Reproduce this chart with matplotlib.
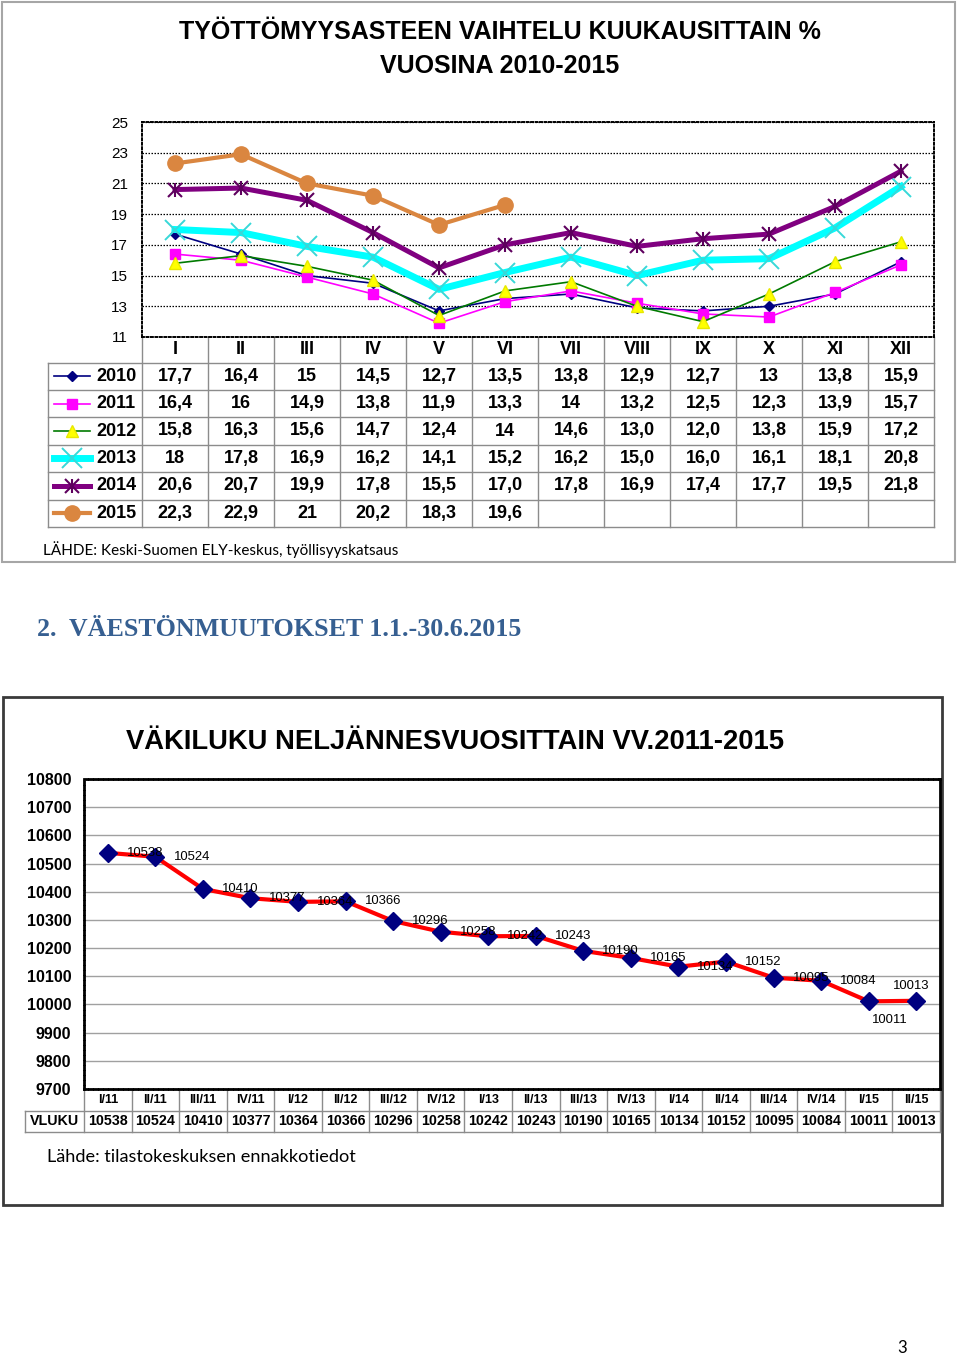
import matplotlib
matplotlib.use('Agg')
import matplotlib.pyplot as plt
import matplotlib.transforms as mtransforms
from matplotlib.patches import Rectangle
from matplotlib import font_manager as fm

# ---------------- data ----------------
months = ["I", "II", "III", "IV", "V", "VI", "VII", "VIII", "IX", "X", "XI", "XII"]
years = ["2010", "2011", "2012", "2013", "2014", "2015"]
rate_2010 = ["17,7", "16,4", "15", "14,5", "12,7", "13,5", "13,8", "12,9", "12,7", "13", "13,8", "15,9"]
rate_2011 = ["16,4", "16", "14,9", "13,8", "11,9", "13,3", "14", "13,2", "12,5", "12,3", "13,9", "15,7"]
rate_2012 = ["15,8", "16,3", "15,6", "14,7", "12,4", "14", "14,6", "13,0", "12,0", "13,8", "15,9", "17,2"]
rate_2013 = ["18", "17,8", "16,9", "16,2", "14,1", "15,2", "16,2", "15,0", "16,0", "16,1", "18,1", "20,8"]
rate_2014 = ["20,6", "20,7", "19,9", "17,8", "15,5", "17,0", "17,8", "16,9", "17,4", "17,7", "19,5", "21,8"]
rate_2015 = ["22,3", "22,9", "21", "20,2", "18,3", "19,6"]
rate_ticks = [11, 13, 15, 17, 19, 21, 23, 25]

quarters = ["I/11", "II/11", "III/11", "IV/11", "I/12", "II/12", "III/12", "IV/12", "I/13",
            "II/13", "III/13", "IV/13", "I/14", "II/14", "III/14", "IV/14", "I/15", "II/15"]
population = [10538, 10524, 10410, 10377, 10364, 10366, 10296, 10258, 10242,
              10243, 10190, 10165, 10134, 10152, 10095, 10084, 10011, 10013]
pop_ticks = [9700, 9800, 9900, 10000, 10100, 10200, 10300, 10400, 10500, 10600, 10700, 10800]

# ---------------- fonts ----------------
try:
    fm.findfont(fm.FontProperties(family='Liberation Sans Narrow'), fallback_to_default=False)
    HAS_NARROW = True
except Exception:
    HAS_NARROW = False
NARROW = ['Liberation Sans Narrow', 'Liberation Sans', 'DejaVu Sans'] if HAS_NARROW else ['Liberation Sans', 'DejaVu Sans']
NK = 1.0 if HAS_NARROW else 0.82
ARIAL = ['Liberation Sans', 'DejaVu Sans']
CAL = ['Lato', 'DejaVu Sans']
SERIF = ['Liberation Serif', 'DejaVu Serif']

W, H = 960, 1357
fig = plt.figure(figsize=(9.6, 13.57), dpi=100)
fig.patch.set_facecolor('white')


def box(x0, y0, x1, y1):
    return [x0 / W, 1 - y1 / H, (x1 - x0) / W, (y1 - y0) / H]


ov = fig.add_axes([0, 0, 1, 1], zorder=0)
ov.set_xlim(0, W)
ov.set_ylim(H, 0)
ov.axis('off')

# page frames
ov.add_patch(Rectangle((2, 2), 953, 560, fill=False, ec='#A6A6A6', lw=1.5))
ov.add_patch(Rectangle((3, 697), 939, 508, fill=False, ec='#3A3A3A', lw=2))

# ---------------- top chart ----------------
ov.text(500, 32, "TYÖTTÖMYYSASTEEN VAIHTELU KUUKAUSITTAIN %", ha='center', va='center',
        fontsize=22 * NK, fontweight='bold', family=NARROW)
ov.text(500, 66, "VUOSINA 2010-2015", ha='center', va='center',
        fontsize=22 * NK, fontweight='bold', family=NARROW)

ax1 = fig.add_axes(box(142, 122, 934, 337), zorder=2)
ax1.set_xlim(-0.5, 11.5)
ax1.set_ylim(11, 25)
ax1.set_yticks(rate_ticks)
ax1.set_yticklabels([str(t) for t in rate_ticks], family=ARIAL, fontsize=11)
ax1.set_xticks([])
ax1.tick_params(axis='y', length=0, pad=10)
ax1.grid(axis='y', linestyle=(0, (1.2, 1.2)), color='black', lw=0.9)
for s in ax1.spines.values():
    s.set_linestyle((0, (1, 1.3)))
    s.set_linewidth(1.4)
    s.set_color('black')

def vals(lst):
    return [float(v.replace(',', '.')) for v in lst]

styles = {
    "2010": dict(color='#000080', lw=1.2, marker='D', ms=5.5, mfc='#000080', mec='#000080'),
    "2011": dict(color='#FF00FF', lw=1.2, marker='s', ms=7, mfc='#FF00FF', mec='#FF00FF'),
    "2012": dict(color='#007A00', lw=1.2, marker='^', ms=8, mfc='#FFFF00', mec='#E8E800'),
    "2013": dict(color='#00FFFF', lw=5, marker='x', ms=14, mew=1.4, mec='#38D8D8'),
    "2014": dict(color='#800080', lw=3.6, marker='x', ms=10, mew=1.5, mec='#5E005E'),
    "2015": dict(color='#DA8640', lw=3, marker='o', ms=11, mfc='#DA8640', mec='#DA8640'),
}
series = {"2010": rate_2010, "2011": rate_2011, "2012": rate_2012,
          "2013": rate_2013, "2014": rate_2014, "2015": rate_2015}
for i, y in enumerate(years):
    v = vals(series[y])
    ax1.plot(range(len(v)), v, zorder=3 + i, clip_on=False, **styles[y])
    if y == "2014":
        ax1.plot(range(len(v)), v, ls='none', marker='|', ms=10, mew=1.5, color='#5E005E', zorder=3 + i)

# table under top chart
tr1 = mtransforms.blended_transform_factory(ax1.transData, ov.transData)
for i, m in enumerate(months):
    ov.text(i, 350, m, transform=tr1, ha='center', va='center', fontsize=13,
            fontweight='bold', family=ARIAL)
row_h = 27.4
row_top = 362.5
grid_c = '#8C8C8C'
for r in range(len(years) + 1):
    yy = row_top + r * row_h
    ov.plot([48, 934], [yy, yy], color=grid_c, lw=1)
ov.plot([48, 48], [row_top, row_top + 6 * row_h], color=grid_c, lw=1)
for b in range(13):
    ov.plot([b - 0.5, b - 0.5], [337, row_top + 6 * row_h], transform=tr1, color=grid_c, lw=1)

for r, y in enumerate(years):
    yc = row_top + (r + 0.5) * row_h
    st = styles[y]
    ov.plot([54, 72, 90], [yc, yc, yc], markevery=[1], zorder=5, **st)
    if y == "2014":
        ov.plot([72], [yc], ls='none', marker='|', ms=10, mew=1.5, color='#5E005E', zorder=6)
    ov.text(96, yc, y, ha='left', va='center', fontsize=13, fontweight='bold', family=ARIAL)
    for i, s in enumerate(series[y]):
        ov.text(i, yc, s, transform=tr1, ha='center', va='center', fontsize=13,
                fontweight='bold', family=ARIAL)

ov.text(43, 550, "LÄHDE: Keski-Suomen ELY-keskus, työllisyyskatsaus", ha='left', va='center',
        fontsize=11, family=CAL)

# section heading
ov.text(37, 630, "2.  VÄESTÖNMUUTOKSET 1.1.-30.6.2015", ha='left', va='center', fontsize=18.7,
        fontweight='bold', family=SERIF, color='#365F91')

# ---------------- bottom chart ----------------
ov.text(455, 742, "VÄKILUKU NELJÄNNESVUOSITTAIN VV.2011-2015", ha='center', va='center',
        fontsize=24 * NK, fontweight='bold', family=NARROW)

ax2 = fig.add_axes(box(84, 779, 940, 1089), zorder=2)
ax2.set_xlim(-0.5, len(quarters) - 0.5)
ax2.set_ylim(9700, 10800)
ax2.set_yticks(pop_ticks)
ax2.set_yticklabels([str(t) for t in pop_ticks], family=ARIAL, fontsize=11.5, fontweight='bold')
ax2.set_xticks([])
ax2.tick_params(axis='y', length=0, pad=9)
ax2.grid(axis='y', color='#A0A0A0', lw=1)
for k in ['left', 'top', 'bottom']:
    ax2.spines[k].set_linestyle((0, (1, 0.8)))
    ax2.spines[k].set_linewidth(2.0)
    ax2.spines[k].set_color('black')
ax2.spines['right'].set_linewidth(2)
ax2.spines['right'].set_color('black')

xq = list(range(len(quarters)))
ax2.plot(xq, population, color='#FF0000', lw=3, marker='D', ms=9.5, mfc='#000080',
         mec='#000080', zorder=3, clip_on=False)
label_off = {16: (21, -19, 'center'), 17: (-5, 15, 'center')}
for i, p in enumerate(population):
    dx, dy, ha = label_off.get(i, (19, 0, 'left'))
    ax2.annotate(str(p), (i, p), xytext=(dx, dy), textcoords='offset pixels', ha=ha,
                 va='center', fontsize=11.5 * NK, family=NARROW, zorder=4)

tr2 = mtransforms.blended_transform_factory(ax2.transData, ov.transData)
for i, q in enumerate(quarters):
    ov.text(i, 1100, q, transform=tr2, ha='center', va='center', fontsize=11 * NK,
            fontweight='bold', family=NARROW)
    ov.text(i, 1121, str(population[i]), transform=tr2, ha='center', va='center',
            fontsize=12.5 * NK, fontweight='bold', family=NARROW)
ov.text(54, 1121, "VLUKU", ha='center', va='center', fontsize=12.5 * NK, fontweight='bold',
        family=NARROW)
for yy in (1111, 1132):
    ov.plot([25, 940], [yy, yy], color=grid_c, lw=1)
ov.plot([25, 25], [1111, 1132], color=grid_c, lw=1)
for b in range(len(quarters) + 1):
    ov.plot([b - 0.5, b - 0.5], [1089, 1132], transform=tr2, color=grid_c, lw=1)

ov.text(47, 1157, "Lähde: tilastokeskuksen ennakkotiedot", ha='left', va='center',
        fontsize=13.1, family=CAL)

ov.text(902, 1348, "3", ha='center', va='center', fontsize=12, family=CAL)

fig.savefig('out.png', dpi=100, facecolor='white')
